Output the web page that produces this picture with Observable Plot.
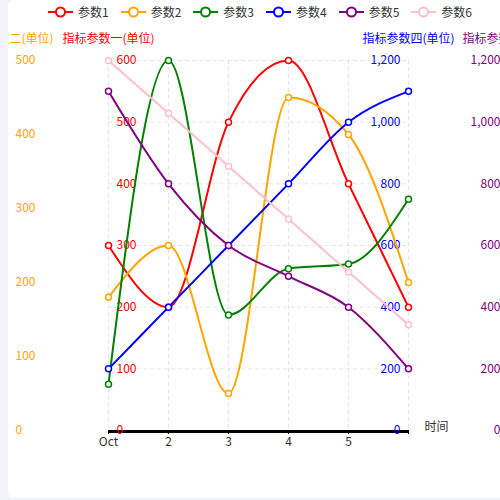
<!DOCTYPE html>
<html>
<head>
<meta charset="utf-8">
<script src="https://cdn.jsdelivr.net/npm/d3@7"></script>
<script src="https://cdn.jsdelivr.net/npm/@observablehq/plot@0.6"></script>
<style>
  html, body { margin: 0; padding: 0; width: 500px; height: 500px; overflow: hidden; background: #f2f3f8; }
  body { position: relative; font-family: "Noto Sans CJK SC", "Noto Sans", sans-serif; }
  #card { position: absolute; left: 8px; top: 0; width: 520px; height: 498px; background: #fff; border-radius: 6px; }
  #legend { position: absolute; left: 48px; top: 0; height: 24px; display: flex; align-items: center; font-size: 12px; color: #333; }
  .item { display: flex; align-items: center; margin-right: 12px; }
  .item span { margin-left: 5px; line-height: 24px; }
  #chart { position: absolute; left: 0; top: 24px; width: 500px; height: 476px; clip-path: inset(0 0 0 8px); }
  #chart svg { max-width: none; }
</style>
</head>
<body>
<div id="card"></div>
<div id="legend"></div>
<div id="chart"></div>
<script>
// ---- data ----
const categories = ["Oct", "2", "3", "4", "5", "6"];
const seriesNames = ["参数1", "参数2", "参数3", "参数4", "参数5", "参数6"];
const seriesColors = ["red", "orange", "green", "blue", "purple", "pink"];
const param1 = [300, 200, 500, 600, 400, 200];
const param2 = [180, 250, 50, 450, 400, 200];
const param3 = [50, 400, 125, 175, 180, 250];
const param4 = [200, 400, 600, 800, 1000, 1100];
const param5 = [1100, 800, 600, 500, 400, 200];
const param6 = [700, 600, 500, 400, 300, 200];
const seriesValues = [param1, param2, param3, param4, param5, param6];
const seriesMax = [600, 500, 400, 1200, 1200, 700];
const ticks1 = [0, 100, 200, 300, 400, 500, 600];
const ticks2 = [0, 100, 200, 300, 400, 500];
const ticks4 = [0, 200, 400, 600, 800, 1000, 1200];
const ticks5 = [0, 200, 400, 600, 800, 1000, 1200];
const axisTitles = ["指标参数一(单位)", "指标参数二(单位)", "指标参数四(单位)", "指标参数五(单位)"];
const xName = "时间";

// legend
const legend = document.getElementById("legend");
seriesNames.forEach((s, i) => {
  const it = document.createElement("div");
  it.className = "item";
  it.innerHTML = `<svg width="25" height="14"><line x1="0" x2="25" y1="7" y2="7" stroke="${seriesColors[i]}" stroke-width="2"/><circle cx="12.5" cy="7" r="4.5" fill="#fff" stroke="${seriesColors[i]}" stroke-width="2"/></svg><span>${s}</span>`;
  legend.appendChild(it);
});

const rows = seriesNames.flatMap((s, i) =>
  categories.map((c, j) => ({series: s, cat: c, v: seriesValues[i][j] / seriesMax[i]}))
);
const fmt = d3.format(",");

const seriesMarks = seriesNames.flatMap((s, i) => {
  const data = rows.filter(r => r.series === s);
  return [
    Plot.line(data, {x: "cat", y: "v", stroke: "series", strokeWidth: 2, curve: "monotone-x"}),
    Plot.dot(data, {x: "cat", y: "v", stroke: "series", fill: "white", r: 3, strokeWidth: 1.5})
  ];
});

const chart = Plot.plot({
  width: 500,
  height: 476,
  marginTop: 36,
  marginBottom: 70,
  marginLeft: 108,
  marginRight: 92,
  style: {background: "transparent", fontFamily: "\"Noto Sans CJK SC\", sans-serif", fontSize: "12px", overflow: "visible"},
  x: {type: "point", domain: categories, padding: 0},
  y: {domain: [0, 1]},
  color: {domain: seriesNames, range: seriesColors},
  marks: [
    Plot.gridY({ticks: ticks1.map(t => t / 600), stroke: "#e0e6f1", strokeOpacity: 1, strokeDasharray: "4,3"}),
    Plot.gridX({stroke: "#e0e6f1", strokeOpacity: 1, strokeDasharray: "4,3"}),
    Plot.ruleY([0], {stroke: "black", strokeWidth: 3, dy: 1}),
    Plot.axisX({tickSize: 4, tickPadding: 3, label: null, stroke: "black", fill: "#333",
      tickFormat: d => d === "6" ? "" : d}),
    Plot.axisY({anchor: "left", ticks: ticks2.map(t => t / 500), tickFormat: d => fmt(Math.round(d * 500)),
      tickSize: 0, tickPadding: 0, textAnchor: "start", dx: -93, fill: "orange", label: null}),
    Plot.axisY({anchor: "left", ticks: ticks1.map(t => t / 600), tickFormat: d => fmt(Math.round(d * 600)),
      tickSize: 0, tickPadding: 0, textAnchor: "start", dx: 8, fill: "red", label: null}),
    Plot.axisY({anchor: "right", ticks: ticks4.map(t => t / 1200), tickFormat: d => fmt(Math.round(d * 1200)),
      tickSize: 0, tickPadding: 0, textAnchor: "end", dx: -8, fill: "blue", label: null}),
    Plot.axisY({anchor: "right", ticks: ticks5.map(t => t / 1200), tickFormat: d => fmt(Math.round(d * 1200)),
      tickSize: 0, tickPadding: 0, textAnchor: "end", dx: 92, fill: "purple", label: null}),
    Plot.text([axisTitles[0]], {frameAnchor: "top-left", dy: -26, dx: 0, textAnchor: "middle", fill: "red"}),
    Plot.text([axisTitles[1]], {frameAnchor: "top-left", dy: -26, dx: -101, textAnchor: "middle", fill: "orange"}),
    Plot.text([axisTitles[2]], {frameAnchor: "top-right", dy: -26, dx: 0, textAnchor: "middle", fill: "blue"}),
    Plot.text([axisTitles[3]], {frameAnchor: "top-right", dy: -26, dx: 100, textAnchor: "middle", fill: "purple"}),
    Plot.text([xName], {frameAnchor: "bottom-right", dx: 16, textAnchor: "start", fill: "#333"}),
    ...seriesMarks
  ]
});
document.getElementById("chart").appendChild(chart);
</script>
</body>
</html>
